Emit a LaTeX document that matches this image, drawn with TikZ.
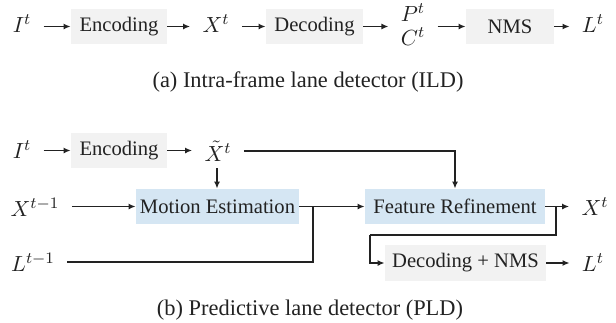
\documentclass[tikz,border=0pt]{standalone}
\usepackage{fontspec}
\setmainfont{Liberation Serif}
\usetikzlibrary{arrows.meta}
\definecolor{boxgray}{HTML}{F2F2F2}
\definecolor{boxblue}{HTML}{D5E6F3}
\definecolor{ink}{HTML}{222222}
\begin{document}
\begin{tikzpicture}[x=0.5pt,y=-0.5pt,
  every node/.style={text=ink},
  graybox/.style={fill=boxgray,draw=none,minimum height=17.5pt,inner sep=0pt,font=\fontsize{10.3}{12}\selectfont},
  bluebox/.style={fill=boxblue,draw=none,minimum height=17.5pt,inner sep=0pt,font=\fontsize{10.3}{12}\selectfont},
  lbl/.style={inner xsep=6pt,inner ysep=1pt,font=\fontsize{11}{12}\selectfont},
  captxt/.style={font=\fontsize{11.2}{13}\selectfont},
  arr/.style={draw=ink,line width=0.8pt,-{Latex[length=3.5pt,width=3pt]}},
  ln/.style={draw=ink,line width=0.8pt}]
\useasboundingbox (0,0) rectangle (616,322);
% (a)
\node[lbl] (ia) at (22,24) {$I^t$};
\node[graybox,minimum width=48pt] (enca) at (119,26.5) {Encoding};
\node[lbl] (xa) at (216,24) {$X^t$};
\node[graybox,minimum width=48.5pt] (deca) at (314.5,26.5) {Decoding};
\node[lbl,align=center] (pc) at (413,25) {$P^t$\\$C^t$};
\node[graybox,minimum width=44pt] (nms) at (510,26.5) {NMS};
\node[lbl] (la) at (593,24) {$L^t$};
\draw[arr] (ia.east |- enca.west) -- (enca.west);
\draw[arr] (enca.east) -- (xa.west |- enca.east);
\draw[arr] (xa.east |- deca.west) -- (deca.west);
\draw[arr] (deca.east) -- (pc.west |- deca.east);
\draw[arr] (pc.east |- nms.west) -- (nms.west);
\draw[arr] (nms.east) -- (la.west |- nms.east);
\node[captxt] (capa) at (308,82) {(a) Intra-frame lane detector (ILD)};
% (b)
\node[lbl] (ib) at (22,150) {$I^t$};
\node[graybox,minimum width=48pt] (encb) at (119,150.5) {Encoding};
\node[lbl] (xt) at (218,151) {$\tilde{X}^t$};
\node[bluebox,minimum width=81.5pt] (me) at (217.5,206.5) {Motion Estimation};
\node[lbl] (xp) at (35,207) {$X^{t-1}$};
\node[lbl] (lp) at (33,262) {$L^{t-1}$};
\node[bluebox,minimum width=90pt] (fr) at (455,206.5) {Feature Refinement};
\node[lbl] (xo) at (595,207) {$X^t$};
\node[graybox,minimum width=80.5pt,minimum height=18pt] (dn) at (465.5,263) {Decoding + NMS};
\node[lbl] (lo) at (593,263) {$L^t$};
\coordinate (j) at (313,206.5);
\coordinate (k) at (556,206.5);
\coordinate (k2) at (370,235);
\coordinate (xtb) at (217,168);
\draw[arr] (ib.east |- encb.west) -- (encb.west);
\draw[arr] (encb.east) -- (xt.west |- encb.east);
\draw[arr] (xt.east) -| (fr.north);
\draw[arr] (xtb) -- (xtb |- me.north);
\draw[arr] (xp.east |- me.west) -- (me.west);
\draw[ln] (me.east) -- (j);
\draw[ln] (lp.east) -| (j);
\draw[arr] (j) -- (fr.west);
\draw[arr] (fr.east) -- (xo.west |- fr.east);
\draw[ln] (k) |- (k2);
\draw[arr] (k2) |- (dn.west);
\draw[arr] (dn.east) -- (lo.west |- dn.east);
\node[captxt] (capb) at (310,310) {(b) Predictive lane detector (PLD)};
\end{tikzpicture}
\end{document}
